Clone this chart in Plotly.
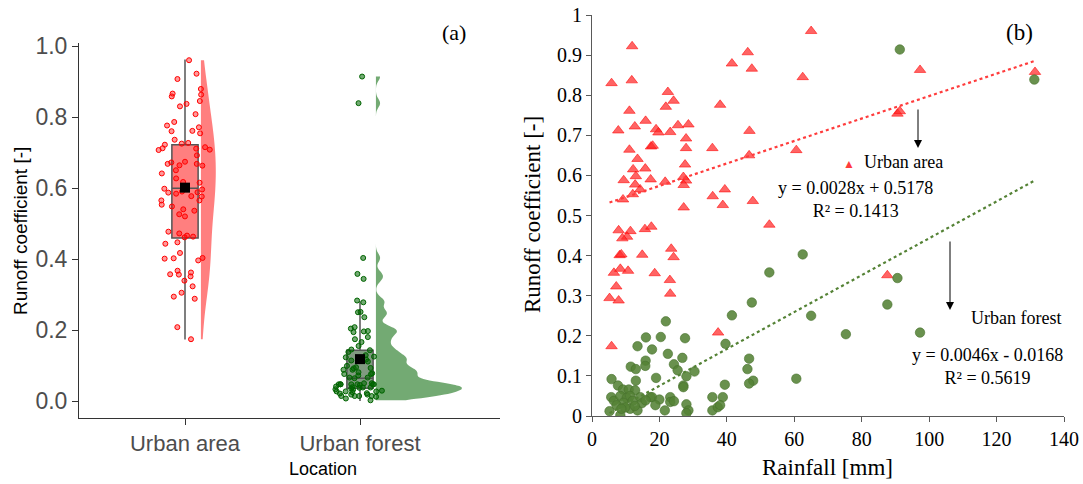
import numpy as np
import plotly.graph_objects as go

# ---------------- data ----------------
categories = ["Urban area", "Urban forest"]

ua_rain = [5.8, 11.9, 11.8, 11.1, 7.8, 12.7, 15.9, 11.1, 13.5, 12.2,
           15.8, 9.4, 13.0, 12.8, 14.3, 12.1, 9.2, 17.4, 17.5, 18.0,
           19.0, 19.7, 22.5, 21.9, 24.2, 23.2, 25.5, 28.6, 27.9, 27.9,
           27.6, 21.7, 27.1, 27.9, 27.2, 27.2, 7.9, 11.4, 10.4, 9.0,
           15.7, 17.6, 8.2, 8.7, 14.9, 23.5, 24.2, 6.5, 8.4, 10.7,
           18.6, 7.2, 5.2, 7.9, 23.1, 23.2, 5.8, 37.4, 35.7, 38.0,
           35.8, 39.4, 38.8, 41.5, 46.2, 47.4, 46.7, 46.6, 47.7, 52.6,
           60.6, 62.5, 65.0, 87.6, 90.6, 91.3, 97.3, 131.4]
ua_rc = [0.830, 0.922, 0.837, 0.761, 0.712, 0.722, 0.736, 0.664, 0.641, 0.615,
         0.617, 0.588, 0.598, 0.577, 0.565, 0.553, 0.540, 0.590, 0.672, 0.674,
         0.715, 0.707, 0.808, 0.771, 0.786, 0.708, 0.725, 0.727, 0.692, 0.668,
         0.627, 0.584, 0.596, 0.587, 0.576, 0.520, 0.463, 0.461, 0.447, 0.443,
         0.466, 0.472, 0.401, 0.403, 0.402, 0.417, 0.396, 0.357, 0.367, 0.362,
         0.356, 0.323, 0.294, 0.288, 0.339, 0.305, 0.174, 0.208, 0.668, 0.776,
         0.548, 0.565, 0.526, 0.879, 0.907, 0.866, 0.711, 0.650, 0.536, 0.477,
         0.663, 0.845, 0.960, 0.351, 0.754, 0.760, 0.863, 0.858]

uf_rain = [91.3, 131.2, 62.5, 52.6, 90.6, 47.4, 87.6, 41.5, 65.0, 21.9,
           75.3, 97.3, 16.0, 20.4, 27.6, 13.5, 17.8, 39.6, 22.5, 26.8,
           46.6, 15.9, 15.8, 11.5, 13.0, 24.3, 25.4, 30.4, 46.1, 5.8,
           13.0, 19.0, 28.0, 7.7, 27.1, 27.1, 39.4, 47.8, 46.6, 60.6,
           9.2, 10.9, 12.8, 5.7, 6.5, 8.4, 10.3, 9.3, 11.3, 12.1,
           14.3, 14.8, 17.3, 17.8, 20.0, 23.2, 23.2, 24.3, 18.8, 35.7,
           38.8, 5.2, 8.4, 11.3, 13.5, 21.6, 28.0, 28.6, 28.0, 35.7,
           37.3, 38.0, 7.3, 9.8, 12.7, 15.9, 8.7]
uf_rc = [0.914, 0.839, 0.403, 0.358, 0.344, 0.283, 0.278, 0.251, 0.250, 0.236,
         0.204, 0.208, 0.196, 0.197, 0.194, 0.174, 0.166, 0.180, 0.155, 0.145,
         0.143, 0.138, 0.125, 0.123, 0.117, 0.129, 0.114, 0.111, 0.117, 0.092,
         0.088, 0.095, 0.099, 0.076, 0.076, 0.072, 0.078, 0.088, 0.081, 0.093,
         0.066, 0.066, 0.064, 0.047, 0.038, 0.050, 0.045, 0.033, 0.050, 0.038,
         0.047, 0.032, 0.047, 0.047, 0.041, 0.047, 0.035, 0.037, 0.027, 0.047,
         0.047, 0.012, 0.002, 0.018, 0.014, 0.014, 0.029, 0.014, 0.007, 0.014,
         0.022, 0.027, 0.027, 0.021, 0.025, 0.039, 0.018]

# box-plot statistics
box_q1 = [0.459, 0.036]
box_median = [0.599, 0.064]
box_q3 = [0.722, 0.143]
box_lower = [0.173, 0.000]
box_upper = [0.962, 0.281]
box_mean = [0.601, 0.118]

# regression lines (panel b)
fit_slope = [0.0028, 0.0046]
fit_intercept = [0.5178, -0.0168]
fit_text = ["y = 0.0028x + 0.5178<br>R² = 0.1413", "y = 0.0046x - 0.0168<br>R² = 0.5619"]

x_ticks_b = [0, 20, 40, 60, 80, 100, 120, 140]
y_ticks_a = [0.0, 0.2, 0.4, 0.6, 0.8, 1.0]

# ---------------- styling ----------------
W, H = 1083, 484
def px(x):
    return x / W
def py(y):
    return 1 - y / H

RED = "rgb(255,0,0)"
DGREEN = "rgb(0,100,0)"
XLGREEN = "rgb(84,130,53)"
SANS = "Liberation Sans, Arial, sans-serif"
SERIF = "Liberation Serif, Times New Roman, serif"
violin_offset = 0.091
violin_width = [0.17, 0.98]
violin_bw = [0.08, 0.012]

fig = go.Figure()

groups = [ua_rc, uf_rc]
fills = ["rgba(255,0,0,0.5)", "rgba(0,100,0,0.55)"]
box_fills = ["rgba(255,0,0,0.5)", "rgba(60,100,60,0.65)"]
pt_fill = ["rgba(255,0,0,0.4)", "rgba(0,100,0,0.55)"]
pt_line = [RED, DGREEN]

# half violins
for i, vals in enumerate(groups):
    fig.add_trace(go.Violin(
        x=[i + violin_offset] * len(vals), y=vals, side="positive",
        width=violin_width[i], bandwidth=violin_bw[i], spanmode="hard",
        fillcolor=fills[i], line=dict(width=0, color=fills[i]),
        points=False, box_visible=False, meanline_visible=False,
        showlegend=False, hoverinfo="skip", xaxis="x", yaxis="y"))

# boxes (precomputed stats)
for i in range(2):
    fig.add_trace(go.Box(
        x=[i], q1=[box_q1[i]], median=[box_median[i]], q3=[box_q3[i]],
        lowerfence=[box_lower[i]], upperfence=[box_upper[i]],
        width=0.15, whiskerwidth=0, fillcolor=box_fills[i],
        line=dict(color="#555555", width=1.5), boxpoints=False,
        showlegend=False, xaxis="x", yaxis="y"))

# jittered points
for i, vals in enumerate(groups):
    fig.add_trace(go.Box(
        x=[i] * len(vals), y=vals, boxpoints="all", jitter=1, pointpos=0,
        width=0.34, fillcolor="rgba(0,0,0,0)", line=dict(color="rgba(0,0,0,0)", width=0),
        marker=dict(size=5, color=pt_fill[i], line=dict(color=pt_line[i], width=1)),
        showlegend=False, xaxis="x", yaxis="y"))

# means
fig.add_trace(go.Scatter(
    x=[0, 1], y=box_mean, mode="markers",
    marker=dict(symbol="square", size=10, color="black"),
    showlegend=False, xaxis="x", yaxis="y"))

# ---------- panel (b) ----------
fig.add_trace(go.Scatter(
    x=ua_rain, y=ua_rc, mode="markers",
    marker=dict(symbol="triangle-up", size=10, color="rgba(255,40,40,0.72)",
                line=dict(color="rgba(255,0,0,0.9)", width=0.6)),
    showlegend=False, xaxis="x2", yaxis="y2"))
fig.add_trace(go.Scatter(
    x=uf_rain, y=uf_rc, mode="markers",
    marker=dict(size=9.5, color="rgba(84,130,53,0.88)",
                line=dict(color="rgba(70,112,44,1)", width=0.6)),
    showlegend=False, xaxis="x2", yaxis="y2"))

series_rain = [ua_rain, uf_rain]
line_cols = ["rgb(255,60,60)", XLGREEN]
for i in range(2):
    xs = np.array([min(series_rain[i]), max(series_rain[i])])
    fig.add_trace(go.Scatter(
        x=xs, y=fit_slope[i] * xs + fit_intercept[i], mode="lines",
        line=dict(color=line_cols[i], width=2.2, dash="dot"),
        showlegend=False, xaxis="x2", yaxis="y2"))

axis_a = dict(showgrid=False, zeroline=False, showline=True, linecolor="#333333",
              linewidth=1, ticks="outside", ticklen=6, tickcolor="#333333", automargin=False)
axis_b = dict(showgrid=False, zeroline=False, showline=True, linecolor="#595959",
              linewidth=1, ticks="outside", ticklen=5, tickcolor="#595959", automargin=False)

fig.update_layout(
    width=W, height=H, margin=dict(l=0, r=0, t=0, b=0, autoexpand=False),
    paper_bgcolor="white", plot_bgcolor="white",
    boxmode="overlay", violinmode="overlay",
    xaxis=dict(axis_a, domain=[px(79), px(500)], range=[-0.6057, 1.8],
               tickvals=[0, 1], ticktext=categories, anchor="y",
               tickfont=dict(family=SANS, size=22, color="#4d4d4d")),
    yaxis=dict(axis_a, domain=[py(418), py(43)], range=[-0.0479, 1.0085],
               tickvals=y_ticks_a, tickformat=".1f", anchor="x", ticklabelstandoff=0,
               tickfont=dict(family=SANS, size=23, color="#4d4d4d")),
    xaxis2=dict(axis_b, domain=[px(592), px(1064)], range=[0, 140],
                tickvals=x_ticks_b, anchor="y2",
                tickfont=dict(family=SERIF, size=20, color="black")),
    yaxis2=dict(axis_b, domain=[py(416), py(15)], range=[0, 1], dtick=0.1,
                anchor="x2", tickfont=dict(family=SERIF, size=20, color="black")),
)

ann = []
def text(x, y, s, size, family, angle=0, xanchor="center", color="black"):
    ann.append(dict(x=px(x), y=py(y), xref="paper", yref="paper", text=s,
                    showarrow=False, textangle=angle, xanchor=xanchor, yanchor="middle",
                    font=dict(size=size, family=family, color=color)))

text(20, 231, "Runoff coefficient [-]", 19, SANS, -90)
text(323, 469, "Location", 18, SANS)
text(454, 32, "(a)", 22, SERIF)
text(1019, 32, "(b)", 23, SERIF)
text(532, 215, "Runoff coefficient [-]", 23, SERIF, -90)
text(827, 467, "Rainfall [mm]", 23, SERIF)
text(893, 162, "<span style='color:rgb(255,60,60);font-size:12px'>▲</span>  Urban area", 18, SERIF)
text(855, 199, fit_text[0], 18, SERIF)
text(1016, 318, "Urban forest", 18, SERIF)
text(987, 366, fit_text[1], 18, SERIF)

for (x, y0, y1) in [(918, 108, 148), (950, 240, 310)]:
    ann.append(dict(x=px(x), y=py(y1), xref="paper", yref="paper", ax=0, ay=-(y1 - y0),
                    axref="pixel", ayref="pixel", showarrow=True, arrowhead=2,
                    arrowsize=1.6, arrowwidth=1, arrowcolor="black", text=""))

fig.update_layout(annotations=ann)
fig.write_html("out.html", config={"displayModeBar": False},
               post_script="document.body.style.margin='0';document.body.style.overflow='hidden';")
